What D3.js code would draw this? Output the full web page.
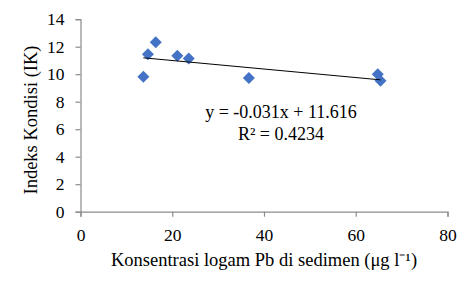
<!DOCTYPE html>
<html>
<head>
<meta charset="utf-8">
<script src="https://cdn.jsdelivr.net/npm/d3@7"></script>
<style>
  body { margin: 0; background: #fff; }
  svg text { font-family: "Liberation Serif", "Times New Roman", serif !important; fill: #000; }
</style>
</head>
<body>
<svg id="chart" width="474" height="289"></svg>
<script>
// data
var pbSediment = [13.7, 14.7, 16.4, 21.1, 23.6, 36.7, 64.8, 65.4];
var indeksKondisi = [9.82, 11.45, 12.33, 11.35, 11.15, 9.72, 10.0, 9.53];
var xTicks = [0, 20, 40, 60, 80];
var yTicks = [0, 2, 4, 6, 8, 10, 12, 14];
var slope = -0.031, intercept = 11.616, rSquared = "0.4234";

var svg = d3.select("#chart");

var x = d3.scaleLinear().domain([0, 80]).range([80.5, 447.5]);
var y = d3.scaleLinear().domain([0, 14]).range([211.7, 19.2]);

var axisColor = "#8c8c8c";

// x axis
var gx = svg.append("g")
    .attr("transform", "translate(0," + y(0) + ")")
    .call(d3.axisBottom(x).tickValues(xTicks).tickSize(5).tickPadding(12));
// y axis
var gy = svg.append("g")
    .attr("transform", "translate(" + x(0) + ",0)")
    .call(d3.axisLeft(y).tickValues(yTicks).tickSize(5).tickPadding(11));

[gx, gy].forEach(function(g) {
    g.attr("font-family", "Liberation Serif");
    g.select(".domain").attr("stroke", axisColor).attr("stroke-width", 1.2);
    g.selectAll(".tick line").attr("stroke", axisColor).attr("stroke-width", 1.2);
    g.selectAll(".tick text")
        .style("font-size", "17.5px")
        .attr("fill", "#000");
});

// points
var pts = pbSediment.map(function(v, i) { return {x: v, y: indeksKondisi[i]}; });
svg.append("g")
    .selectAll("path")
    .data(pts)
    .enter().append("path")
    .attr("d", d3.symbol().type(d3.symbolSquare).size(72))
    .attr("transform", function(d) {
        return "translate(" + x(d.x) + "," + y(d.y) + ") rotate(45)";
    })
    .attr("fill", "#4472c4");

// trend line (linear, from the equation)
var xmin = d3.min(pbSediment), xmax = d3.max(pbSediment);
svg.append("line")
    .attr("x1", x(xmin)).attr("y1", y(slope * xmin + intercept))
    .attr("x2", x(xmax)).attr("y2", y(slope * xmax + intercept))
    .attr("stroke", "#000")
    .attr("stroke-width", 1);

// equation
svg.append("text")
    .attr("x", 281).attr("y", 118)
    .attr("text-anchor", "middle")
    .style("font-size", "18px")
    .text("y = " + slope + "x + " + intercept);
svg.append("text")
    .attr("x", 281).attr("y", 140)
    .attr("text-anchor", "middle")
    .style("font-size", "18px")
    .text("R² = " + rSquared);

// axis titles
svg.append("text")
    .attr("x", 264).attr("y", 266)
    .attr("text-anchor", "middle")
    .style("font-size", "18.5px")
    .text("Konsentrasi logam Pb di sedimen (μg l⁻¹)");
svg.append("text")
    .attr("transform", "translate(37,120) rotate(-90)")
    .attr("text-anchor", "middle")
    .style("font-size", "18.5px")
    .text("Indeks Kondisi (IK)");
</script>
</body>
</html>
